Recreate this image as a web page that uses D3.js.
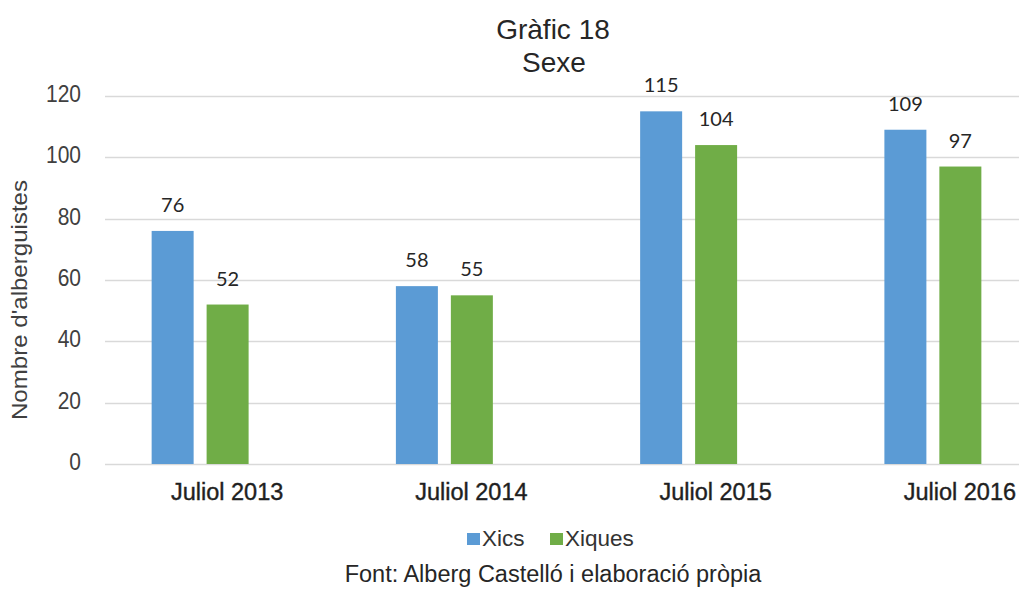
<!DOCTYPE html>
<html>
<head>
<meta charset="utf-8">
<script src="https://cdnjs.cloudflare.com/ajax/libs/d3/7.8.5/d3.min.js"></script>
<style>
  body { margin: 0; background: #fff; }
  svg { display: block; font-family: "Liberation Sans", Arial, sans-serif; }
</style>
</head>
<body>
<svg id="chart" width="1019" height="591"></svg>
<script>
// chart data
var categories = ["Juliol 2013", "Juliol 2014", "Juliol 2015", "Juliol 2016"];
var seriesNames = ["Xics", "Xiques"];
var xics = [76, 58, 115, 109];
var xiques = [52, 55, 104, 97];
var yTicks = [0, 20, 40, 60, 80, 100, 120];
var colors = ["#5b9bd5", "#70ad47"];

var svg = d3.select("#chart");

var gridLeft = 105, gridRight = 1019;

var x = d3.scaleBand().domain(categories)
    .range([78, 1055])
    .paddingInner(0.603)
    .paddingOuter(0.3015);

var xs = d3.scaleBand().domain(seriesNames)
    .range([0, x.bandwidth()])
    .paddingInner(0.236);

var y = d3.scaleLinear().domain([0, 120]).range([464, 96]);

var rows = categories.map(function(c, i){
    return {category: c, values: [xics[i], xiques[i]]};
});

// text with a vertical stretch, as in the picture
function stretchText(sel, sy){
    sel.attr("transform", function(){
        var t = d3.select(this);
        return "translate(" + t.attr("data-x") + "," + t.attr("data-y") + ") scale(1," + sy + ")";
    });
}

// gridlines
svg.append("g")
    .selectAll("line")
    .data(yTicks)
    .enter().append("line")
    .attr("x1", gridLeft)
    .attr("x2", gridRight)
    .attr("y1", function(d){ return Math.round(y(d)) + 0.5; })
    .attr("y2", function(d){ return Math.round(y(d)) + 0.5; })
    .attr("stroke", "#d9d9d9")
    .attr("stroke-width", 1.3);

// y tick labels
svg.append("g")
    .selectAll("text")
    .data(yTicks)
    .enter().append("text")
    .attr("data-x", 81)
    .attr("data-y", function(d){ return y(d) + 6; })
    .attr("text-anchor", "end")
    .attr("font-size", 21)
    .attr("fill", "#404040")
    .text(function(d){ return d; })
    .call(stretchText, 1.1);

// y axis title
svg.append("text")
    .attr("transform", "translate(27,300) scale(1,1.12) rotate(-90)")
    .attr("text-anchor", "middle")
    .attr("font-size", 21.5)
    .attr("fill", "#404040")
    .text("Nombre d'alberguistes");

// bars
var groups = svg.append("g")
    .selectAll("g")
    .data(rows)
    .enter().append("g")
    .attr("transform", function(d){ return "translate(" + x(d.category) + ",0)"; });

groups.selectAll("rect")
    .data(function(d){ return d.values.map(function(v, i){ return {name: seriesNames[i], value: v}; }); })
    .enter().append("rect")
    .attr("x", function(d){ return xs(d.name); })
    .attr("width", xs.bandwidth())
    .attr("y", function(d){ return y(d.value); })
    .attr("height", function(d){ return y(0) - y(d.value); })
    .attr("fill", function(d, i){ return colors[i]; });

// data labels
groups.selectAll("text")
    .data(function(d){ return d.values.map(function(v, i){ return {name: seriesNames[i], value: v}; }); })
    .enter().append("text")
    .attr("x", function(d){ return xs(d.name) + xs.bandwidth() / 2; })
    .attr("y", function(d){ return y(d.value) - 19; })
    .attr("text-anchor", "middle")
    .attr("font-family", "Lato, 'Open Sans', sans-serif")
    .attr("font-size", 20)
    .attr("fill", "#262626")
    .text(function(d){ return d.value; });

// category labels
svg.append("g")
    .selectAll("text")
    .data(categories)
    .enter().append("text")
    .attr("x", function(d){ return x(d) + x.bandwidth() / 2 + 27; })
    .attr("y", 500)
    .attr("text-anchor", "middle")
    .attr("font-size", 23.5)
    .attr("fill", "#1f1f1f")
    .attr("stroke", "#1f1f1f")
    .attr("stroke-width", 0.4)
    .text(function(d){ return d; });

// title
svg.append("text")
    .attr("x", 553).attr("y", 39)
    .attr("text-anchor", "middle")
    .attr("font-size", 28)
    .attr("fill", "#262626")
    .text("Gràfic 18");
svg.append("text")
    .attr("x", 554).attr("y", 72)
    .attr("text-anchor", "middle")
    .attr("font-size", 28)
    .attr("fill", "#262626")
    .text("Sexe");

// legend
var legendX = [467, 550];
var legend = svg.append("g")
    .selectAll("g")
    .data(seriesNames)
    .enter().append("g")
    .attr("transform", function(d, i){ return "translate(" + legendX[i] + ",533)"; });
legend.append("rect")
    .attr("width", 13).attr("height", 12)
    .attr("fill", function(d, i){ return colors[i]; });
legend.append("text")
    .attr("x", 15).attr("y", 13)
    .attr("font-size", 22.5)
    .attr("fill", "#333")
    .text(function(d){ return d; });

// source note
svg.append("text")
    .attr("x", 553).attr("y", 582)
    .attr("text-anchor", "middle")
    .attr("font-size", 23.5)
    .attr("fill", "#262626")
    .text("Font: Alberg Castelló i elaboració pròpia");
</script>
</body>
</html>
